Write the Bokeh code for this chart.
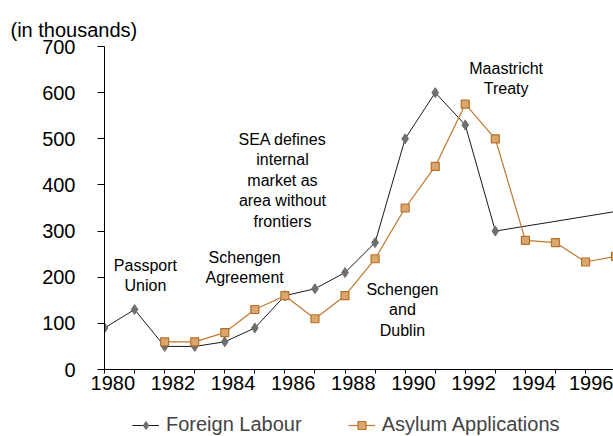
from bokeh.plotting import figure
from bokeh.layouts import column
from bokeh.models import Range1d, FixedTicker, Legend, LegendItem, ColumnDataSource, Title
from bokeh.core.properties import value
from bokeh.embed import file_html
from bokeh.resources import INLINE

# ---- data ----
fl_years = [1980, 1981, 1982, 1983, 1984, 1985, 1986, 1987, 1988, 1989, 1990, 1991, 1992, 1993, 1998]
fl_values = [90, 130, 50, 50, 60, 90, 160, 175, 210, 275, 500, 600, 530, 300, 353]

as_years = [1982, 1983, 1984, 1985, 1986, 1987, 1988, 1989, 1990, 1991, 1992, 1993, 1994, 1995, 1996, 1997]
as_values = [60, 60, 80, 130, 160, 110, 160, 240, 350, 440, 575, 500, 280, 275, 233, 245]

tick_years = list(range(1980, 1998))
tick_labels = {y: ("\u00a0\u00a0\u00a0" + str(y) if y % 2 == 0 else "") for y in tick_years}
y_ticks = [0, 100, 200, 300, 400, 500, 600, 700]

events = ["Passport\nUnion", "Schengen\nAgreement",
          "SEA defines\ninternal\nmarket as\narea without\nfrontiers",
          "Schengen\nand\nDublin", "Maastricht\nTreaty"]
event_x = [1981.36, 1984.66, 1985.92, 1989.91, 1993.36]
event_y = [204, 221, 410, 129, 631]

series_names = ["Foreign Labour", "Asylum Applications"]

FONT = "Liberation Sans"
FL_LINE, FL_MARK = "#1a1a1a", "#6e6e6e"
AS_LINE, AS_FILL, AS_EDGE = "#c0782c", "#d9a76e", "#b8702a"

p = figure(width=613, height=400, output_backend="svg", toolbar_location=None,
           x_range=Range1d(1980, 1996.93), y_range=Range1d(0, 700),
           min_border_left=104, min_border_right=0, min_border_top=46, min_border_bottom=31)
p.outline_line_color = None
p.grid.visible = False

# thin spacer (the built-in title slot sits next to the plot area)
p.title.text = "\u200b"
p.title.text_font_size = "1px"
p.title.text_alpha = 0
p.title.standoff = 10
# visible unit caption, stacked above the spacer
p.add_layout(Title(text="(in thousands)", text_font=FONT, text_font_size="20px",
                   text_font_style="normal", text_color="black", align="left",
                   offset=-94, standoff=12), "above")

# axes
p.xaxis.ticker = FixedTicker(ticks=tick_years)
p.xaxis.major_label_overrides = tick_labels
p.yaxis.ticker = FixedTicker(ticks=y_ticks)
for ax in (p.xaxis, p.yaxis):
    ax.axis_line_color = "black"
    ax.major_tick_line_color = "black"
    ax.minor_tick_line_color = None
    ax.major_tick_in = 0
    ax.major_label_text_font = FONT
    ax.major_label_text_font_size = "20px"
    ax.major_label_text_color = "black"
p.xaxis.major_tick_out = 4
p.xaxis.major_label_standoff = -2
p.yaxis.major_tick_out = 7
p.yaxis.major_label_standoff = 22

# series
p.line(fl_years, fl_values, line_color=FL_LINE, line_width=1)
p.scatter(fl_years, fl_values, marker="diamond", size=10, fill_color=FL_MARK, line_color=FL_MARK)
p.line(as_years, as_values, line_color=AS_LINE, line_width=1.2)
p.scatter(as_years, as_values, marker="square", size=8, fill_color=AS_FILL,
          line_color=AS_EDGE, line_width=1.2)

# annotations
src = ColumnDataSource(dict(x=event_x, y=event_y, t=events))
p.text(x="x", y="y", text="t", source=src, text_font=value(FONT), text_font_size="16px",
       text_align="center", text_baseline="middle", text_color="black", text_line_height=1.2)

# legend strip (separate figure below the chart)
lg = figure(width=613, height=36, output_backend="svg", toolbar_location=None,
            x_range=Range1d(0, 1), y_range=Range1d(0, 1),
            x_axis_location=None, y_axis_location=None,
            min_border_left=0, min_border_right=0, min_border_top=0, min_border_bottom=0)
lg.outline_line_color = None
lg.grid.visible = False
a1 = lg.line([5, 6], [5, 5], line_color=FL_LINE, line_width=1)
a2 = lg.scatter([5], [5], marker="diamond", size=10, fill_color=FL_MARK, line_color=FL_MARK)
b1 = lg.line([5, 6], [5, 5], line_color=AS_LINE, line_width=1.2)
b2 = lg.scatter([5], [5], marker="square", size=8, fill_color=AS_FILL,
                line_color=AS_EDGE, line_width=1.2)
legend = Legend(items=[LegendItem(label=series_names[0], renderers=[a1, a2]),
                       LegendItem(label=series_names[1], renderers=[b1, b2])],
                orientation="horizontal", location=(28, 0), padding=0, margin=0,
                spacing=46, glyph_width=27, label_standoff=7,
                label_text_font=FONT, label_text_font_size="20px",
                border_line_color=None, background_fill_alpha=0)
lg.add_layout(legend, "center")

open("out.html", "w").write(file_html(column(p, lg, spacing=0), INLINE))
